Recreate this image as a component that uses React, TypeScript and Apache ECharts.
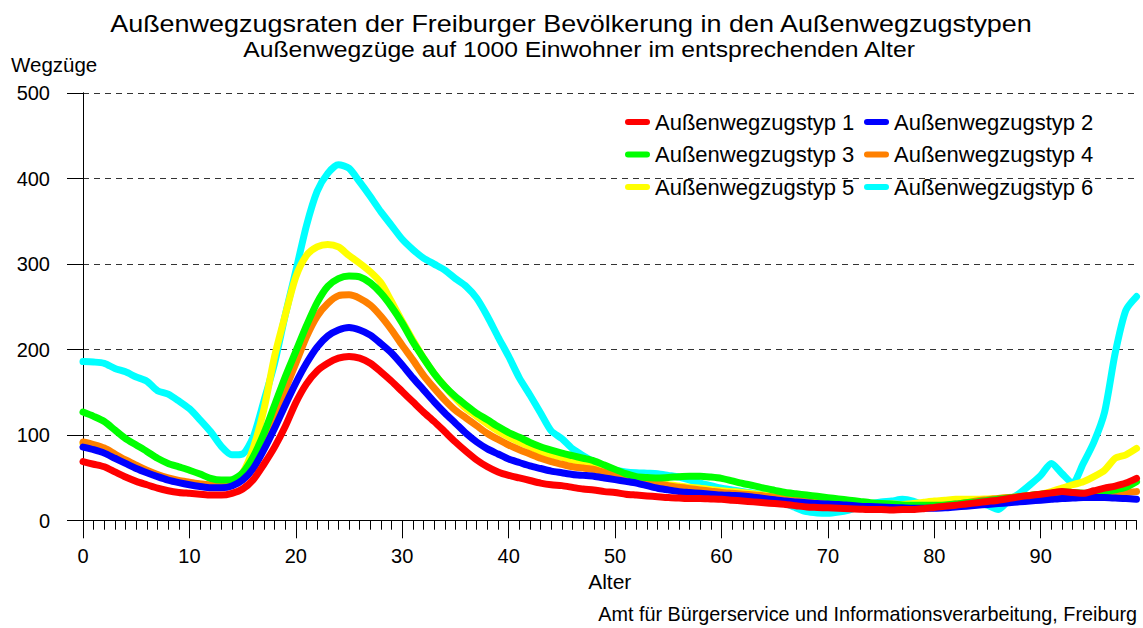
import React, { useEffect, useRef } from "react";
import * as echarts from "echarts";

const ages = Array.from({ length: 100 }, (_, i) => i);

const typ1 = [69, 66, 63, 57, 51, 46, 42, 38, 35, 33,
  32, 31, 30, 30, 32, 37, 48, 66, 86, 110,
  138, 160, 175, 184, 190, 192, 190, 184, 174, 163,
  151, 139, 127, 116, 104, 92, 81, 71, 63, 57,
  53, 50, 47, 44, 42, 41, 39, 37, 36, 34,
  33, 31, 30, 29, 28, 27, 26.5, 26, 26, 25.5,
  25, 24, 23, 22, 21, 20, 19, 17.5, 16, 15.5,
  15, 14.5, 14, 13.5, 13, 13, 12.5, 13, 13, 14,
  15.5, 17, 18, 19.5, 21, 22.5, 24, 26, 28, 29.5,
  31, 32.5, 34, 33, 32, 35, 38, 40.5, 44, 49.5];

const typ2 = [86, 83, 79, 73, 67, 61, 56, 51.5, 47.5, 44.5,
  42, 40, 38.5, 38.5, 40.5, 47.5, 61, 83, 108, 135,
  161, 184, 203, 216, 223, 226, 223, 217, 207, 196,
  182, 167, 153, 139, 126, 114, 102, 92, 84, 78,
  72, 68, 64, 61, 58, 56, 54, 53, 52, 50,
  48, 46, 44, 41, 38, 36, 34, 33, 32, 31,
  30, 29.5, 29, 27.5, 26, 24.5, 23, 22, 21, 20,
  19.5, 19, 18, 17, 16.5, 16, 15.5, 15, 14.5, 14.5,
  14.5, 15, 16, 17, 18, 19, 20, 21, 22, 23,
  24, 25, 26, 26.5, 27, 27, 27, 26.5, 26, 25];

const typ3 = [127, 122, 116, 106, 96, 88.5, 81, 73, 67, 63,
  59, 54.5, 49.5, 47.5, 48, 56, 75, 102, 135, 168,
  198, 228, 255, 274, 283, 286, 285, 278, 266, 250,
  231, 209, 190, 172, 157, 145, 135, 125.5, 118, 110,
  103, 97.5, 91.5, 86.5, 82.5, 79, 76, 73, 70, 65,
  60, 55, 51.5, 50.5, 50, 50.5, 51.5, 52, 52, 51,
  49.5, 46.5, 43.5, 41, 38, 35.5, 33, 31.5, 30, 28.5,
  27, 25.5, 24, 22.5, 21, 20, 19.5, 18.5, 18, 18,
  18, 18.5, 19.5, 21, 22, 23.5, 25, 26.5, 28, 29.5,
  31, 32, 33.5, 33, 32, 33, 34, 36, 39, 45.5];

const typ4 = [92, 89, 85, 78, 71, 65, 59, 54, 50, 47,
  45, 43, 42, 42, 44, 52, 68, 90, 122, 153,
  184, 215, 239, 254, 263, 264, 260, 252, 239, 223,
  205, 188, 170, 155, 141, 129, 120, 111, 102, 95,
  88.5, 83, 78, 73, 69, 66, 63, 61.5, 60, 56.5,
  53, 50, 47.5, 45, 43, 41, 39, 37.5, 36, 34.5,
  33, 32, 31, 30, 29, 27.5, 26, 24.5, 23, 22,
  21, 20, 18.7, 18, 17, 16.5, 16.4, 15.5, 14.5, 15,
  16, 17.5, 19.5, 21, 23, 24.5, 26, 27, 28, 29,
  30, 31, 32, 31, 30, 31, 32, 32.5, 33, 34];

const typ5 = [90, 87, 83, 76, 70, 64, 58, 53, 49, 46,
  44, 43, 42, 43, 46, 56, 85, 130, 192, 240,
  285, 310, 320, 323, 320, 310, 301, 291, 278, 256,
  233, 211, 190, 172, 157, 143, 131, 122, 113, 105,
  98, 92, 86.5, 81, 77, 74, 71, 68, 65, 60,
  55, 51.5, 48, 46, 44, 42, 40.5, 39, 38, 36.5,
  35, 34, 33, 31.5, 30, 28.5, 27, 26, 25, 23.5,
  22, 21, 19.5, 18.5, 18, 18.5, 19.5, 19, 20, 21.5,
  23, 24, 25, 25, 25, 25.5, 26, 27, 28, 29.5,
  31, 34, 38, 42, 45.5, 51.5, 59, 73, 77, 84.5];

const typ6 = [186, 185.5, 184, 178, 174, 168, 163, 152, 148, 140,
  131, 118, 104, 87, 77, 78, 98, 140, 184, 240,
  292, 345, 385, 406, 416, 412, 396, 379, 361, 345,
  329, 317, 307, 300, 293, 283, 274, 260, 239, 215,
  192, 167, 147, 126, 105, 96, 84, 76, 69, 63,
  59, 57, 56, 55.5, 55, 53, 51, 47.5, 44, 41,
  38, 36, 34, 32, 30, 25, 20, 15, 10.5, 9,
  8.6, 10, 12.5, 16, 20, 22, 23, 25, 23, 18,
  17, 18, 19.5, 21, 22, 18, 13, 24, 32, 42,
  53, 67, 55, 44, 67, 92, 127, 196, 246, 262];

const seriesNames = [
  "Außenwegzugstyp 1",
  "Außenwegzugstyp 2",
  "Außenwegzugstyp 3",
  "Außenwegzugstyp 4",
  "Außenwegzugstyp 5",
  "Außenwegzugstyp 6",
];
const seriesColors = ["#FF0000", "#0000FF", "#00FF00", "#FF8000", "#FFFF00", "#00FFFF"];
const xMajorTicks = [0, 10, 20, 30, 40, 50, 60, 70, 80, 90];

const titleText = "Außenwegzugsraten der Freiburger Bevölkerung in den Außenwegzugstypen";
const subtitleText = "Außenwegzüge auf 1000 Einwohner im entsprechenden Alter";
const yName = "Wegzüge";
const xName = "Alter";
const sourceText = "Amt für Bürgerservice und Informationsverarbeitung, Freiburg";

const pillIcon = "path://M3,0L22,0A3,3,0,0,1,22,6L3,6A3,3,0,0,1,3,0Z";

export default function App() {
  const ref = useRef<HTMLDivElement>(null);

  useEffect(() => {
    const chart = echarts.init(ref.current!, null, { renderer: "svg" });
    const font = "'Liberation Sans', Arial, sans-serif";
    const values = [typ1, typ2, typ3, typ4, typ5, typ6];

    const legendCommon = {
      orient: "vertical",
      top: 111,
      padding: 0,
      icon: pillIcon,
      itemWidth: 25,
      itemHeight: 6,
      itemGap: 10.5,
      selectedMode: false,
      textStyle: { fontSize: 22, color: "#000", fontFamily: font, lineHeight: 22 },
    };

    chart.setOption({
      animation: false,
      backgroundColor: "#ffffff",
      grid: { left: 83, right: 6.5, top: 93, bottom: 107.3, containLabel: false },
      xAxis: [
        {
          type: "value",
          min: 0,
          max: 99,
          interval: 1,
          axisLine: { show: true, lineStyle: { color: "#000", width: 1 } },
          axisTick: { show: true, length: 9, lineStyle: { color: "#000", width: 1 } },
          axisLabel: { show: false },
          splitLine: { show: false },
        },
        {
          type: "value",
          min: 0,
          max: 99,
          position: "bottom",
          axisLine: { show: false },
          axisTick: { show: true, length: 17.6, customValues: xMajorTicks, lineStyle: { color: "#000", width: 1 } },
          axisLabel: { show: true, customValues: xMajorTicks, margin: 25, fontSize: 20, color: "#000", fontFamily: font },
          splitLine: { show: false },
          name: xName,
          nameLocation: "middle",
          nameGap: 50,
          nameTextStyle: { fontSize: 21, color: "#000", fontFamily: font },
        },
      ],
      yAxis: [
        {
          type: "value",
          min: 0,
          max: 500,
          interval: 100,
          axisLine: { show: true, lineStyle: { color: "#000", width: 1 } },
          axisTick: { show: true, length: 16, lineStyle: { color: "#000", width: 1 } },
          axisLabel: { margin: 33, fontSize: 20, color: "#000", fontFamily: font },
          splitLine: { show: true, lineStyle: { color: "#333", type: [6, 5], width: 1 } },
        },
        {
          type: "value",
          min: 0,
          max: 500,
          interval: 100,
          position: "right",
          axisLine: { show: true, lineStyle: { color: "#000", width: 1 } },
          axisTick: { show: false },
          axisLabel: { show: false },
          splitLine: { show: false },
        },
      ],
      legend: [
        { ...legendCommon, left: 625, data: [seriesNames[0], seriesNames[2], seriesNames[4]] },
        { ...legendCommon, left: 864, data: [seriesNames[1], seriesNames[3], seriesNames[5]] },
      ],
      series: values.map((vals, k) => ({
        name: seriesNames[k],
        type: "line",
        xAxisIndex: 0,
        yAxisIndex: 0,
        data: ages.map((a, i) => [a, vals[i]]),
        symbol: "none",
        showSymbol: false,
        smooth: 0.25,
        clip: false,
        z: 10 - k,
        itemStyle: { color: seriesColors[k] },
        lineStyle: { color: seriesColors[k], width: 7, cap: "round", join: "round" },
      })),
      graphic: [
        {
          type: "text",
          x: 571,
          y: 23.4,
          scaleX: 1.124,
          style: { text: titleText, fontSize: 24, fontFamily: font, fill: "#000", align: "center", verticalAlign: "middle" },
        },
        {
          type: "text",
          x: 579,
          y: 50,
          scaleX: 1.139,
          style: { text: subtitleText, fontSize: 21.7, fontFamily: font, fill: "#000", align: "center", verticalAlign: "middle" },
        },
        {
          type: "text",
          x: 11,
          y: 64,
          style: { text: yName, fontSize: 20.5, fontFamily: font, fill: "#000", align: "left", verticalAlign: "middle" },
        },
        {
          type: "text",
          x: 1137,
          y: 614,
          style: { text: sourceText, fontSize: 19.8, fontFamily: font, fill: "#000", align: "right", verticalAlign: "middle" },
        },
      ],
    });

    return () => chart.dispose();
  }, []);

  return (
    <div
      ref={ref}
      style={{ position: "fixed", left: 0, top: 0, width: 1143, height: 628, background: "#fff" }}
    />
  );
}
